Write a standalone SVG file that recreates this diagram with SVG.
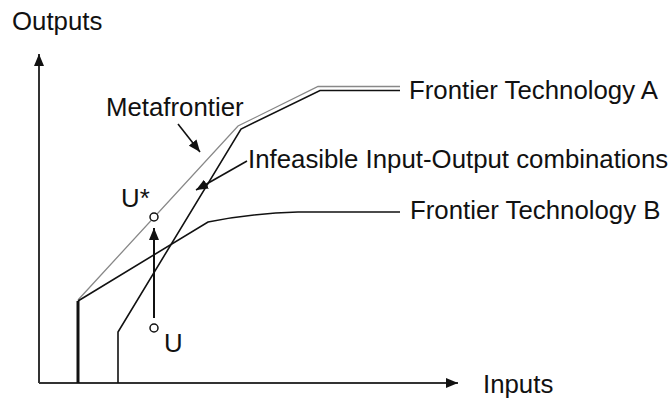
<svg xmlns="http://www.w3.org/2000/svg" width="668" height="400" viewBox="0 0 668 400">
<defs>
<marker id="ah" viewBox="0 0 12 10" refX="12" refY="5" markerWidth="12" markerHeight="10" markerUnits="userSpaceOnUse" orient="auto">
<path d="M0,0 L12,5 L0,10 Z" fill="#111"/>
</marker>
<marker id="ahs" viewBox="0 0 12 10" refX="12" refY="5" markerWidth="12" markerHeight="10" markerUnits="userSpaceOnUse" orient="auto">
<path d="M0,0 L12,5 L0,10 Z" fill="#111"/>
</marker>
</defs>
<style>
text{font-family:"Liberation Sans",Arial,sans-serif;font-size:25.8px;fill:#111}
.ax{fill:none;stroke:#333;stroke-width:2}
.fr{fill:none;stroke:#111;stroke-width:1.6;stroke-linejoin:miter}
.meta{fill:none;stroke:#888;stroke-width:1.3}
.pt{fill:#fff;stroke:#111;stroke-width:1.5}
.ar{fill:none;stroke:#111;stroke-width:1.6}
</style>
<rect width="668" height="400" fill="#fff"/>
<g id="axes">
<path class="ax" d="M39,383 L39,54" marker-end="url(#ah)"/>
<path class="ax" d="M39,383 L458,383" marker-end="url(#ah)"/>
<text x="12" y="30">Outputs</text>
<text x="483" y="393">Inputs</text>
</g>
<g id="metafrontier">
<path class="meta" d="M78,300 L238,126 L318,86.5 L400,86.5"/>
<text x="106" y="116">Metafrontier</text>
</g>
<g id="frontier-a">
<path class="fr" d="M118,383 L118,332 L241,129 L320,90.5 L400,90.5"/>
<text x="409" y="99">Frontier Technology A</text>
</g>
<g id="frontier-b">
<path class="fr" d="M78,383 L78,301" style="stroke-width:3"/>
<path class="fr" d="M78,301 L208,222 Q250,213.5 298,212 L400,212"/>
<text x="410" y="219">Frontier Technology B</text>
</g>
<g id="infeasible">
<text x="248" y="168">Infeasible Input-Output combinations</text>
</g>
<g id="point-ustar">
<circle class="pt" cx="154" cy="217" r="4"/>
<text x="121" y="207">U*</text>
</g>
<g id="point-u">
<circle class="pt" cx="154" cy="328" r="4"/>
<text x="164" y="352">U</text>
</g>
<g id="connectors">
<path class="ar" d="M178,124 L200,152" marker-end="url(#ahs)"/>
<path class="ar" d="M247,161 L196,190" marker-end="url(#ahs)"/>
<path class="ar" d="M154,318 L154,228" marker-end="url(#ahs)" style="stroke-width:2"/>
</g>
</svg>
